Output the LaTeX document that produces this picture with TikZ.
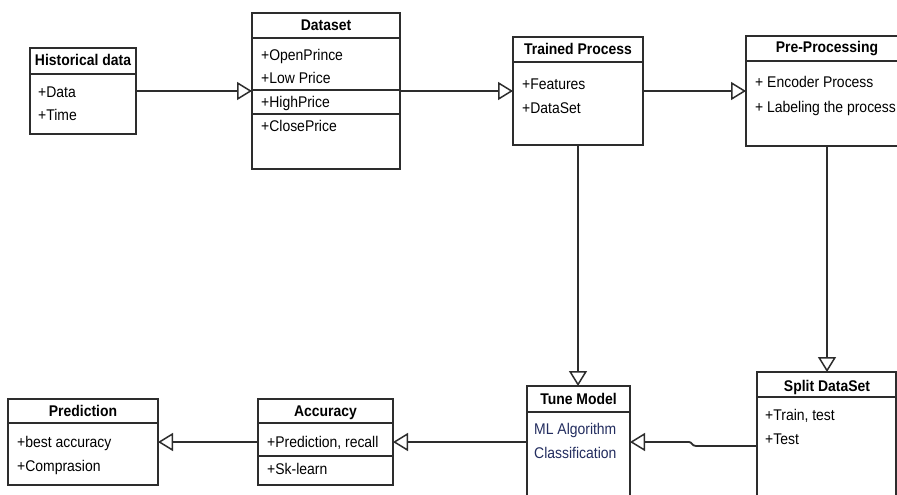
\documentclass[tikz,border=0pt]{standalone}
\usepackage{fontspec}
\setmainfont{Liberation Sans}[FakeStretch=0.9]
\usetikzlibrary{arrows.meta,calc}
\definecolor{edge}{RGB}{45,45,45}
\definecolor{navy}{RGB}{35,45,95}
\begin{document}
\begin{tikzpicture}[x=1pt,y=-1pt,
  umlbox/.style={draw=edge,line width=1.6pt,anchor=north west,inner sep=0pt,outer sep=0pt,fill=white},
  divider/.style={draw=edge,line width=1.5pt},
  ttl/.style={font=\fontsize{15.5}{17}\selectfont\bfseries,anchor=base,inner sep=0pt},
  attr/.style={font=\fontsize{15.5}{17}\selectfont,anchor=base west,inner sep=0pt},
  conn/.style={draw=edge,line width=1.8pt,-{Triangle[open,length=15pt,width=18pt,line width=1.5pt]}}
]
\useasboundingbox (0,0) rectangle (897,495);
\fill[white] (0,0) rectangle (897,495);

% boxes
\node[umlbox,minimum width=106pt,minimum height=86pt] (hist) at (30,48) {};
\node[umlbox,minimum width=148pt,minimum height=156pt] (dataset) at (252,13) {};
\node[umlbox,minimum width=130pt,minimum height=108pt] (trained) at (513,37) {};
\node[umlbox,minimum width=162pt,minimum height=110pt] (pre) at (746,36) {};
\node[umlbox,minimum width=103pt,minimum height=112pt] (tune) at (527,386) {};
\node[umlbox,minimum width=139pt,minimum height=126pt] (split) at (757,372) {};
\node[umlbox,minimum width=150pt,minimum height=86pt] (pred) at (8,399) {};
\node[umlbox,minimum width=135pt,minimum height=86pt] (acc) at (258,399) {};

% dividers
\draw[divider] ([yshift=-26pt]hist.north west) -- ([yshift=-26pt]hist.north east);
\draw[divider] ([yshift=-25pt]dataset.north west) -- ([yshift=-25pt]dataset.north east);
\draw[divider] ([yshift=-77pt]dataset.north west) -- ([yshift=-77pt]dataset.north east);
\draw[divider] ([yshift=-101pt]dataset.north west) -- ([yshift=-101pt]dataset.north east);
\draw[divider] ([yshift=-25pt]trained.north west) -- ([yshift=-25pt]trained.north east);
\draw[divider] ([yshift=-25pt]pre.north west) -- ([yshift=-25pt]pre.north east);
\draw[divider] ([yshift=-26pt]tune.north west) -- ([yshift=-26pt]tune.north east);
\draw[divider] ([yshift=-25pt]split.north west) -- ([yshift=-25pt]split.north east);
\draw[divider] ([yshift=-24pt]pred.north west) -- ([yshift=-24pt]pred.north east);
\draw[divider] ([yshift=-24pt]acc.north west) -- ([yshift=-24pt]acc.north east);
\draw[divider] ([yshift=-57pt]acc.north west) -- ([yshift=-57pt]acc.north east);

% titles
\node[ttl] (histT) at (83,66) {Historical data};
\node[ttl] (datasetT) at (326,30.5) {Dataset};
\node[ttl] (trainedT) at (578,55) {Trained Process};
\node[ttl] (preT) at (827,53) {Pre-Processing};
\node[ttl] (tuneT) at (578.5,404) {Tune Model};
\node[ttl] (splitT) at (827,391) {Split DataSet};
\node[ttl] (predT) at (83,416) {Prediction};
\node[ttl] (accT) at (325.5,416) {Accuracy};

% attributes
\node[attr] (h1) at (38,97) {+Data};
\node[attr] (h2) at (38,121) {+Time};
\node[attr] (d1) at (261,60) {+OpenPrince};
\node[attr] (d2) at (261,84) {+Low Price};
\node[attr] (d3) at (261,107) {+HighPrice};
\node[attr] (d4) at (261,131) {+ClosePrice};
\node[attr] (t1) at (522,89) {+Features};
\node[attr] (t2) at (522,113) {+DataSet};
\node[attr] (p1) at (755,88) {+ Encoder Process};
\node[attr] (p2) at (755,112) {+ Labeling the process};
\node[attr,text=navy] (m1) at (534,434) {ML Algorithm};
\node[attr,text=navy] (m2) at (534,458) {Classification};
\node[attr] (s1) at (765,420) {+Train, test};
\node[attr] (s2) at (765,444) {+Test};
\node[attr] (r1) at (17,447) {+best accuracy};
\node[attr] (r2) at (17,471) {+Comprasion};
\node[attr] (a1) at (267,447) {+Prediction, recall};
\node[attr] (a2) at (267,474) {+Sk-learn};

% connectors
\draw[conn] (hist.east) -- (hist.east -| dataset.west);
\draw[conn] (dataset.east) -- (dataset.east -| trained.west);
\draw[conn] (trained.east) -- (trained.east -| pre.west);
\draw[conn] (trained.south) -- (trained.south |- tune.north);
\draw[conn] (pre.south) -- (pre.south |- split.north);
\draw[conn] ($(split.north west)+(0,74)$) -- ++(-61,0) .. controls ++(-4,0) and ++(3,0) .. ++(-7,-4) -- (tune.east);
\draw[conn] (tune.west) -- (tune.west -| acc.east);
\draw[conn] (acc.west) -- (acc.west -| pred.east);
\end{tikzpicture}
\end{document}
